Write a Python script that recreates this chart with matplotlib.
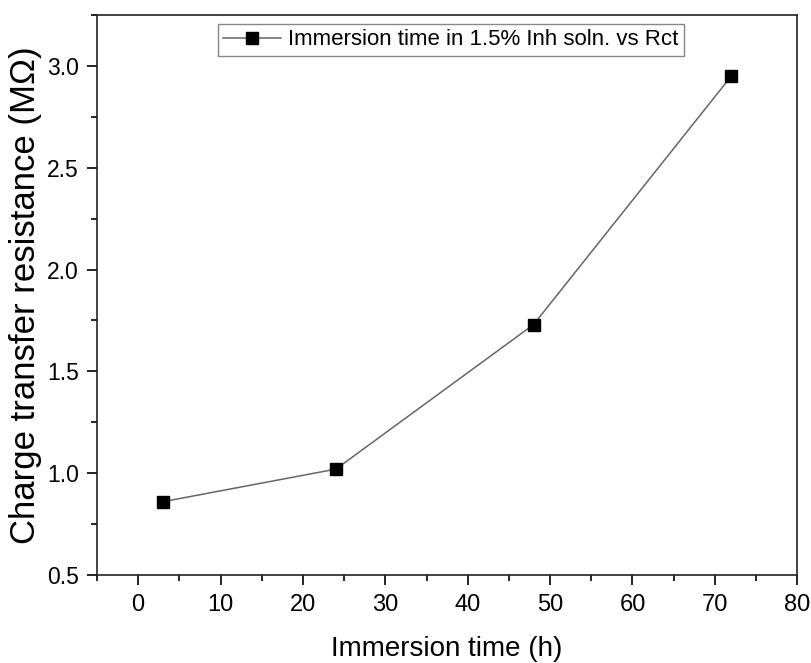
import matplotlib.pyplot as plt
from matplotlib.ticker import MultipleLocator

plt.rcParams['font.family'] = ['Liberation Sans', 'DejaVu Sans']

# immersion time (h) and charge transfer resistance (MOhm)
hours = [3, 24, 48, 72]
rct = [0.86, 1.02, 1.73, 2.95]
series_label = 'Immersion time in 1.5% Inh soln. vs Rct'

fig = plt.figure(figsize=(8.11, 6.63), dpi=100)
ax = fig.add_axes([0.1196, 0.1327, 0.8634, 0.8447])

ax.plot(hours, rct, color='#666666', lw=1.1, marker='s', ms=8.5,
        mfc='black', mec='black', label=series_label)

ax.set_xlim(-5, 80)
ax.set_ylim(0.5, 3.25)
ax.xaxis.set_major_locator(MultipleLocator(10))
ax.xaxis.set_minor_locator(MultipleLocator(5))
ax.yaxis.set_major_locator(MultipleLocator(0.5))
ax.yaxis.set_minor_locator(MultipleLocator(0.25))
ax.yaxis.set_major_formatter(plt.FormatStrFormatter('%.1f'))

ax.tick_params(which='both', direction='out', top=False, right=False, width=1.2)
ax.tick_params(which='major', length=7, pad=6)
ax.tick_params(axis='x', which='major', labelsize=17, pad=7)
ax.tick_params(axis='y', which='major', labelsize=16.5)
ax.tick_params(which='minor', length=4)
for s in ax.spines.values():
    s.set_linewidth(1.2)
    s.set_color('#222222')

ax.set_xlabel('Immersion time (h)', fontsize=20, labelpad=14)
ax.set_ylabel('Charge transfer resistance (M\u03a9)', fontsize=25, labelpad=4)

leg = ax.legend(loc='upper center', bbox_to_anchor=(0.505, 0.984), fontsize=16,
                fancybox=False, framealpha=1, edgecolor='#888888', borderaxespad=0,
                handlelength=2.6, borderpad=0.25, handletextpad=0.3)

fig.savefig('out.png', dpi=100)
